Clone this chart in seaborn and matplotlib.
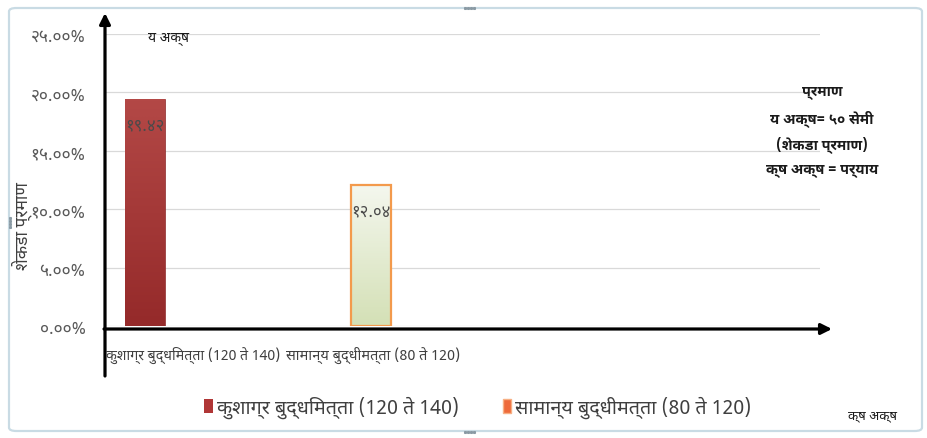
import os
import matplotlib
matplotlib.use("Agg")
import matplotlib.pyplot as plt
from matplotlib import font_manager
from matplotlib.patches import Patch, FancyBboxPatch, FancyArrowPatch
from matplotlib.colors import LinearSegmentedColormap
from matplotlib.lines import Line2D
import numpy as np
import pandas as pd
import seaborn as sns

# ---------------- data ----------------
categories = ["कुशाग्र बुद्धिमत्ता (120 ते 140)", "सामान्य बुद्धीमत्ता (80 ते 120)"]
axis_categories = ["कुशाग्र बुद्धिमत्ता (120 ते 140)", "सामान्य बुद्धीमत्ता (80 ते 120)"]
values = [19.42, 12.04]
y_ticks = [0, 5, 10, 15, 20, 25]
y_label = "शेकडा प्रमाण"
y_axis_note = "य अक्ष"
x_axis_note = "क्ष अक्ष"
scale_note = ["प्रमाण", "य अक्ष= ५० सेमी", "(शेकडा प्रमाण)", "क्ष अक्ष = पर्याय"]

DEV = str.maketrans("0123456789", "०१२३४५६७८९")

# ---------------- fonts ----------------
ALL_FONTS = font_manager.findSystemFonts()
BASE = {os.path.basename(f): f for f in ALL_FONTS}

def find_font(names, preds):
    for n in names:
        if n in BASE:
            return BASE[n]
    for pred in preds:
        for f in sorted(ALL_FONTS):
            if pred(os.path.basename(f).lower()):
                return f
    return None

sans_path = find_font(
    ["NotoSansDevanagari-Regular.ttf", "NotoSansDevanagari[wdth,wght].ttf",
     "NotoSansDevanagariUI-Regular.ttf", "Hind-Regular.ttf", "Mukta-Regular.ttf"],
    [lambda b: "devanagari" in b and "regular" in b,
     lambda b: "devanagari" in b])
bold_path = find_font(
    ["NotoSansDevanagari-Bold.ttf", "NotoSansDevanagariUI-Bold.ttf", "Hind-Bold.ttf",
     "Mukta-Bold.ttf"],
    [lambda b: "devanagari" in b and b.endswith("-bold.ttf"),
     lambda b: "devanagari" in b and "bold" in b])

def register(path):
    if path is None:
        return "DejaVu Sans"
    font_manager.fontManager.addfont(path)
    return font_manager.FontProperties(fname=path).get_name()

sns.set_theme(style="white")
SANS = register(sans_path)
plt.rcParams["font.family"] = [SANS, "DejaVu Sans"]
if bold_path:
    font_manager.fontManager.addfont(bold_path)
    BOLD_FP = font_manager.FontProperties(fname=bold_path, size=10.5)
else:
    BOLD_FP = font_manager.FontProperties(family=[SANS, "DejaVu Sans"], weight="bold", size=10.5)

W, H = 928, 439
fig = plt.figure(figsize=(W / 100, H / 100), dpi=100)

def px(x, y):
    return (x / W, 1 - y / H)

# axes placement (pixels from top-left)
ax_l, ax_r, ax_t, ax_b = 105, 820, 35, 327
ax = fig.add_axes([ax_l / W, 1 - ax_b / H, (ax_r - ax_l) / W, (ax_b - ax_t) / H])

df = pd.DataFrame({"category": categories, "value": values})
red = "#A53838"
green = "#E2EAD0"
sns.barplot(data=df, x="category", y="value", hue="category",
            palette=[red, green], width=0.177, dodge=False, legend=False,
            saturation=1, ax=ax, zorder=3)

ax.set_xlim(-0.177, 2.987)
ax.set_ylim(0, 25)
ax.set_yticks(y_ticks)
ax.set_yticklabels([("%.2f%%" % t).translate(DEV) for t in y_ticks],
                   color="#595959", fontsize=12.5)
ax.tick_params(axis="y", length=0, pad=14)
ax.set_xticks([])
ax.set_xlabel("")
ax.set_ylabel("")
for s in ax.spines.values():
    s.set_visible(False)
ax.yaxis.grid(True, color="#D9D9D9", lw=0.9, zorder=0)
ax.set_axisbelow(True)

# bar styling: gradients
p1, p2 = ax.patches[0], ax.patches[1]
x0, w1 = p1.get_x(), p1.get_width()
grad1 = np.linspace(0, 1, 64).reshape(-1, 1)
im1 = ax.imshow(grad1, extent=[x0, x0 + w1, 0, p1.get_height()], aspect="auto", origin="lower",
                cmap=LinearSegmentedColormap.from_list("r", ["#952A2A", "#B34846"]),
                zorder=3.5, interpolation="bicubic")
im1.set_clip_path(p1)
p1.set_edgecolor("#8E2C2C")
p1.set_linewidth(0.5)

x0, w2 = p2.get_x(), p2.get_width()
grad2 = np.linspace(0, 1, 64).reshape(-1, 1)
im2 = ax.imshow(grad2, extent=[x0, x0 + w2, 0, p2.get_height()], aspect="auto", origin="lower",
                cmap=LinearSegmentedColormap.from_list("g", ["#D4E0B6", "#F4F7EE"]),
                zorder=3.5, interpolation="bicubic")
im2.set_clip_path(p2)
p2.set_edgecolor("#F39A4C")
p2.set_linewidth(1.6)
p2.set_zorder(4)
p2.set_facecolor("none")
ax.set_xlim(-0.177, 2.987)
ax.set_ylim(0, 25)

# value labels
for p, v in zip([p1, p2], values):
    ax.text(p.get_x() + p.get_width() / 2, v - 2.2, ("%.2f" % v).translate(DEV),
            ha="center", va="center", fontsize=12, color="#4A4A4A", zorder=6)

# arrows (axes)
arrow = dict(arrowstyle="-|>", lw=2.3, color="black", mutation_scale=16, shrinkA=0, shrinkB=0)
fig.add_artist(FancyArrowPatch((105 / W, 1 - 377 / H), (105 / W, 1 - 14 / H),
                               transform=fig.transFigure, **arrow))
fig.add_artist(FancyArrowPatch((104 / W, 1 - 330 / H), (832 / W, 1 - 330 / H),
                               transform=fig.transFigure, **arrow))

# category labels under the axis
fig.text(*px(106, 355), axis_categories[0], ha="left", va="center", fontsize=10.2,
         color="#404040")
fig.text(*px(286, 355), axis_categories[1], ha="left", va="center", fontsize=10.4,
         color="#404040")

# y label
fig.text(*px(22, 226), y_label, rotation=90, ha="center", va="center",
         fontsize=12.5, color="#404040")

# y axis note
fig.text(*px(169, 38), y_axis_note, ha="center", va="center", fontsize=10, color="#1a1a1a")

# scale note
for i, line in enumerate(scale_note):
    fig.text(*px(822, 93 + 25.7 * i), line, ha="center", va="center",
             fontproperties=BOLD_FP, color="#1a1a1a")

# legend
handles = [Patch(facecolor="#B03636", edgecolor="none"),
           Patch(facecolor="#EE6A3A", edgecolor="#F7B084")]
fig.legend(handles, categories, loc="center", bbox_to_anchor=(478 / W, 1 - 408 / H),
           ncol=2, frameon=False, handlelength=0.45, handleheight=0.75,
           handletextpad=0.2, columnspacing=2.2, fontsize=14.2,
           labelcolor="#404040")

# x axis note
fig.text(*px(873, 416), x_axis_note, ha="center", va="center", fontsize=9.5, color="#1a1a1a")

# outer frame with resize-handle dots
frame = FancyBboxPatch((9 / W, 1 - 432 / H), 913 / W, 423 / H,
                       boxstyle="round,pad=0,rounding_size=0.008",
                       transform=fig.transFigure, fill=False,
                       edgecolor="#C9DBE4", lw=1.6)
fig.add_artist(frame)
for k in range(4):
    for (x, y) in [(465 + 3 * k, 9), (465 + 3 * k, 433), (10, 219 + 3 * k)]:
        fig.add_artist(Line2D([x / W], [1 - y / H], marker="s", markersize=1.2,
                              color="#8A9AA4", linestyle="none",
                              transform=fig.transFigure))

fig.savefig("out.png", dpi=100)
